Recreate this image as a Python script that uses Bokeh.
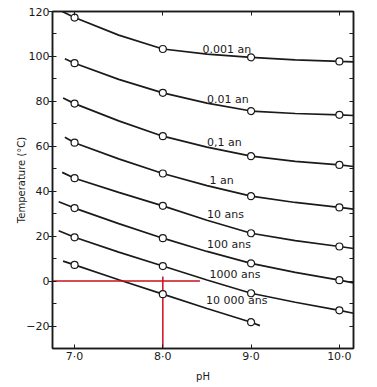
from bokeh.plotting import figure
from bokeh.models import LinearAxis, FixedTicker, Range1d
from bokeh.core.properties import value
from bokeh.embed import file_html
from bokeh.resources import INLINE

# pH values of the measured points
ph_points = [7.0, 8.0, 9.0, 10.0]

# curve labels
labels = ["0.001 an", "0.01 an", "0,1 an", "1 an", "10 ans", "100 ans", "1000 ans", "10 000 ans"]

# curves: pH and temperature (°C)
c0_x = [6.86, 7.0, 7.5, 8.0, 8.5, 9.0, 9.5, 10.0, 10.16]
c0_y = [120.0, 117.3, 109.5, 103.3, 101.0, 99.6, 98.5, 97.8, 97.6]
c1_x = [6.89, 7.0, 7.5, 8.0, 8.5, 9.0, 9.5, 10.0, 10.16]
c1_y = [99.0, 97.0, 89.8, 83.8, 79.2, 75.7, 74.6, 74.0, 73.7]
c2_x = [6.87, 7.0, 7.5, 8.0, 8.5, 9.0, 9.5, 10.0, 10.16]
c2_y = [81.5, 79.0, 71.3, 64.5, 59.6, 55.6, 53.3, 51.7, 51.0]
c3_x = [6.89, 7.0, 7.5, 8.0, 8.5, 9.0, 9.5, 10.0, 10.16]
c3_y = [64.0, 61.6, 54.4, 47.9, 42.5, 37.8, 35.0, 32.8, 32.0]
c4_x = [6.86, 7.0, 7.5, 8.0, 8.5, 9.0, 9.5, 10.0, 10.16]
c4_y = [48.4, 45.8, 39.5, 33.5, 27.1, 21.3, 18.0, 15.4, 14.5]
c5_x = [6.82, 7.0, 7.5, 8.0, 8.5, 9.0, 9.5, 10.0, 10.16]
c5_y = [35.3, 32.5, 25.6, 19.1, 13.2, 7.9, 3.9, 0.4, -0.8]
c6_x = [6.82, 7.0, 7.5, 8.0, 8.5, 9.0, 9.5, 10.0, 10.16]
c6_y = [22.4, 19.5, 12.9, 6.7, 0.5, -5.4, -9.4, -13.0, -14.3]
c7_x = [6.87, 7.0, 7.5, 8.0, 8.5, 9.0, 9.1]
c7_y = [8.9, 7.2, 0.6, -5.8, -12.2, -18.3, -19.8]

# point temperatures at ph_points
p0 = [117.3, 103.3, 99.6, 97.8]
p1 = [97.0, 83.8, 75.7, 74.0]
p2 = [79.0, 64.5, 55.6, 51.7]
p3 = [61.6, 47.9, 37.8, 32.8]
p4 = [45.8, 33.5, 21.3, 15.4]
p5 = [32.5, 19.1, 7.9, 0.4]
p6 = [19.5, 6.7, -5.4, -13.0]
p7 = [7.2, -5.8, -18.3]

# label anchor positions (pH, temperature)
label_x = [8.45, 8.5, 8.5, 8.53, 8.5, 8.5, 8.53, 8.49]
label_y = [103.3, 81.0, 61.9, 44.7, 29.5, 16.4, 3.0, -8.6]

# red reading lines
red_h_x = [6.72, 8.42]
red_h_y = [0.0, 0.0]
red_v_x = [8.0, 8.0]
red_v_y = [-30.0, 2.0]

x_ticks = [7, 8, 9, 10]
x_tick_labels = ["7·0", "8·0", "9·0", "10·0"]
y_ticks = [-20, 0, 20, 40, 60, 80, 100, 120]
y_minor = [-30, -10, 10, 30, 50, 70, 90, 110]
y_all = [-30, -20, -10, 0, 10, 20, 30, 40, 50, 60, 70, 80, 90, 100, 110, 120]

FONT = "DejaVu Sans"
INK = "#1a1a1a"

p = figure(width=367, height=384, output_backend="svg", toolbar_location=None,
           x_range=Range1d(6.75, 10.16), y_range=Range1d(-30, 120),
           min_border_left=52, min_border_right=14, min_border_top=11, min_border_bottom=30)
p.grid.visible = False
p.outline_line_color = INK
p.outline_line_width = 1.5
p.background_fill_color = "white"
p.border_fill_color = "white"

# bottom axis
xa = p.xaxis[0]
xa.ticker = FixedTicker(ticks=x_ticks)
xa.major_label_overrides = {t: s for t, s in zip(x_ticks, x_tick_labels)}
xa.major_tick_in = 4
xa.major_tick_out = 0
xa.minor_tick_line_color = None
xa.axis_line_color = INK
xa.axis_line_width = 1.5
xa.major_tick_line_color = INK
xa.major_label_text_font = FONT
xa.major_label_text_font_size = "11px"
xa.major_label_text_color = INK
xa.major_label_standoff = 1
xa.axis_label = "pH"
xa.axis_label_text_font = FONT
xa.axis_label_text_font_size = "10px"
xa.axis_label_text_font_style = "normal"
xa.axis_label_text_color = INK
xa.axis_label_standoff = 5

# left axis
ya = p.yaxis[0]
ya.ticker = FixedTicker(ticks=y_ticks, minor_ticks=y_minor)
ya.major_tick_in = 4
ya.major_tick_out = 4
ya.minor_tick_in = 4
ya.minor_tick_out = 0
ya.axis_line_color = INK
ya.axis_line_width = 1.5
ya.major_tick_line_color = INK
ya.minor_tick_line_color = INK
ya.major_label_text_font = FONT
ya.major_label_text_font_size = "11px"
ya.major_label_text_color = INK
ya.major_label_standoff = -1
ya.axis_label = "Temperature (°C)"
ya.axis_label_text_font = FONT
ya.axis_label_text_font_size = "10px"
ya.axis_label_text_font_style = "normal"
ya.axis_label_text_color = INK
ya.axis_label_standoff = -4

# right axis: inward ticks every 10, no labels
ra = LinearAxis(ticker=FixedTicker(ticks=y_all), major_tick_in=4, major_tick_out=0,
                minor_tick_line_color=None, major_label_text_font_size="1px",
                major_label_text_color=None,
                axis_line_color=INK, axis_line_width=1.5, major_tick_line_color=INK,
                major_label_standoff=0)
p.add_layout(ra, "right")

# top axis: inward ticks at pH values, no labels
ta = LinearAxis(ticker=FixedTicker(ticks=x_ticks), major_tick_in=4, major_tick_out=0,
                minor_tick_line_color=None, major_label_text_font_size="1px",
                major_label_text_color=None,
                axis_line_color=INK, axis_line_width=1.5, major_tick_line_color=INK,
                major_label_standoff=0)
p.add_layout(ta, "above")

curves = [(c0_x, c0_y), (c1_x, c1_y), (c2_x, c2_y), (c3_x, c3_y),
          (c4_x, c4_y), (c5_x, c5_y), (c6_x, c6_y), (c7_x, c7_y)]
points = [p0, p1, p2, p3, p4, p5, p6, p7]

for cx, cy in curves:
    p.line(cx, cy, line_color=INK, line_width=1.7)

# red reading lines
p.line(red_h_x, red_h_y, line_color="#c8101a", line_width=1.5)
p.line(red_v_x, red_v_y, line_color="#c8101a", line_width=1.5)

for pts in points:
    p.scatter(ph_points[:len(pts)], pts, size=7, marker="circle",
              fill_color="white", line_color=INK, line_width=1.2)

p.text(label_x, label_y, text=labels, text_font=value(FONT), text_font_size="11px",
       text_color=INK, text_baseline="middle", text_align="left")

open("out.html", "w").write(file_html(p, INLINE))
